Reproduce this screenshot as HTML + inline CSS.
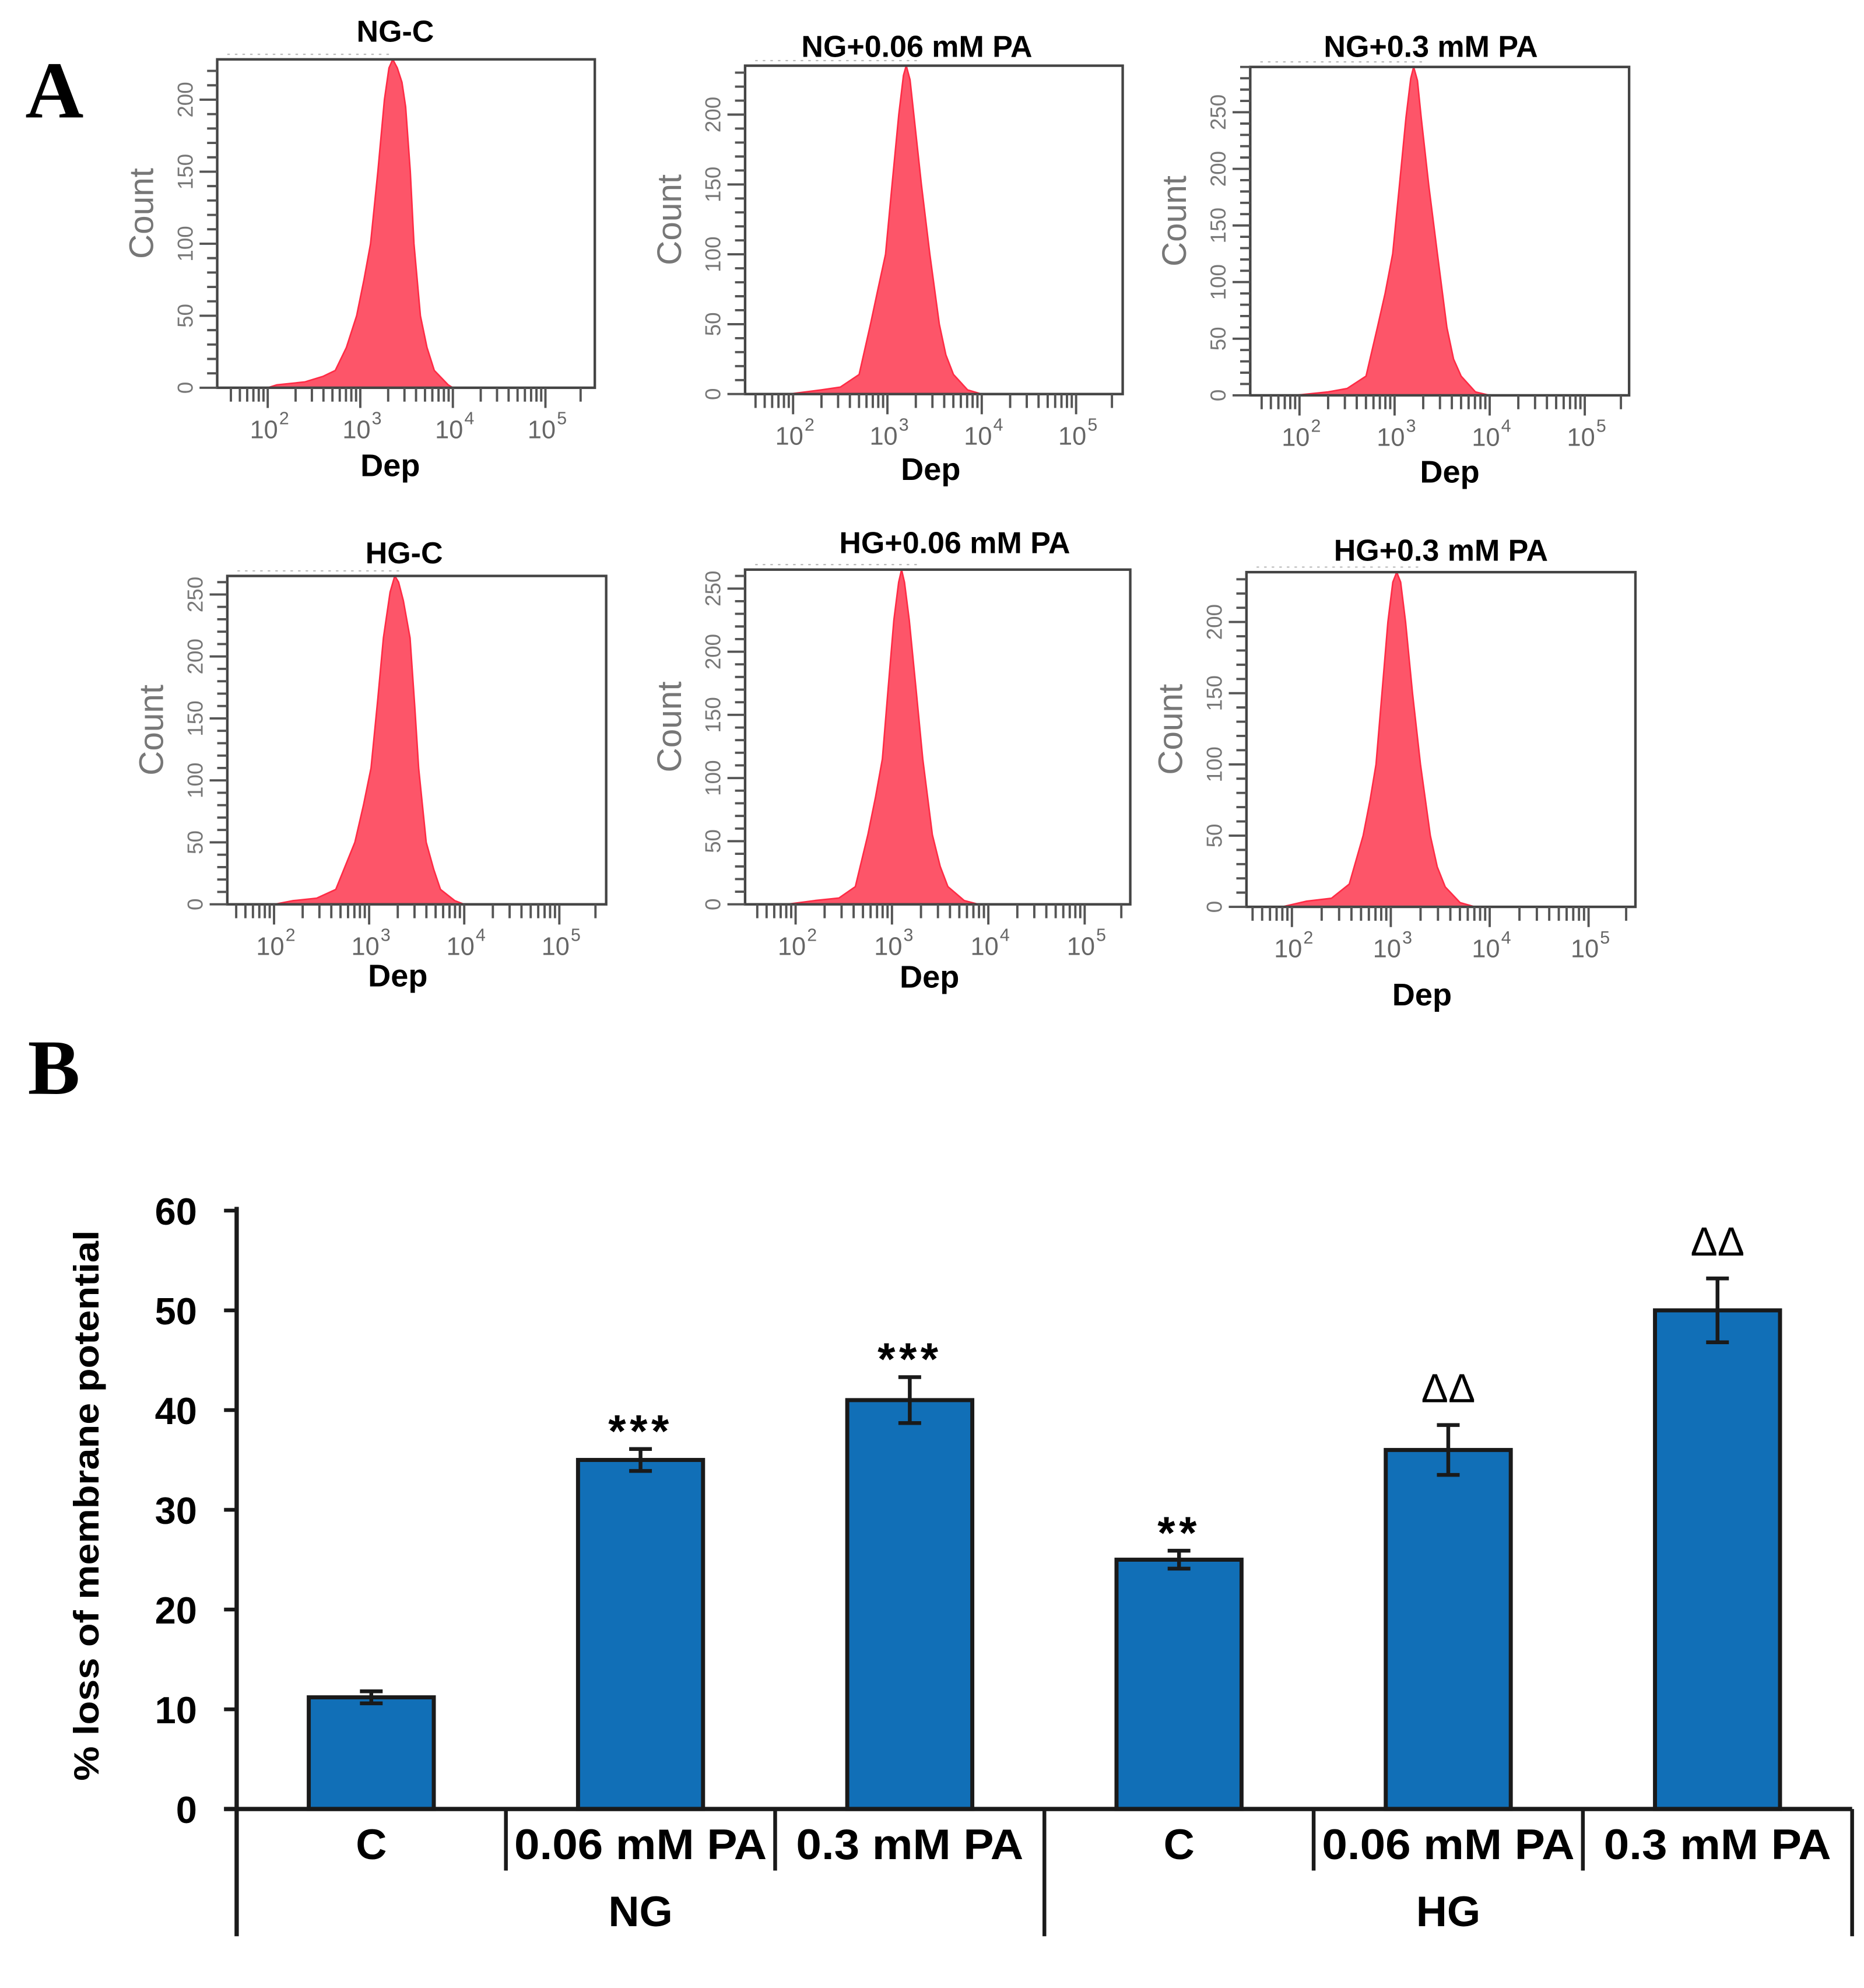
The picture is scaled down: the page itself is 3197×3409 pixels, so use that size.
<!DOCTYPE html>
<html><head><meta charset="utf-8"><title>Membrane potential figure</title>
<style>
html,body{margin:0;padding:0;background:#fff;}
svg{display:block;}
</style></head>
<body>
<svg id="fig" xmlns="http://www.w3.org/2000/svg" width="3197" height="3409" viewBox="0 0 1476 1574" preserveAspectRatio="none" font-family="'Liberation Sans', sans-serif">
  <rect x="0" y="0" width="1476" height="1574" fill="#fff"/>
  <text x="20" y="93" font-family="'Liberation Serif', serif" font-weight="bold" font-size="64">A</text>
  <text x="22" y="866" font-family="'Liberation Serif', serif" font-weight="bold" font-size="62">B</text>
  <g id="hists"></g>
  <g id="bars"></g>
</svg>
<script>
// ---------- Panel A: histogram data ----------
const panelTitles = ["NG-C","NG+0.06 mM PA","NG+0.3 mM PA","HG-C","HG+0.06 mM PA","HG+0.3 mM PA"];
const histLogs1 = [2.0,2.1,2.4,2.6,2.73,2.85,2.96,3.04,3.11,3.19,3.26,3.31,3.35,3.40,3.45,3.49,3.54,3.58,3.65,3.72,3.8,3.95,4.0];
const histCounts1 = [0,2,4,8,12,28,50,75,100,150,200,222,228,222,212,195,150,100,50,28,12,2,0];
const histLogs2 = [1.95,2.3,2.5,2.7,2.82,2.9,2.98,3.05,3.12,3.17,3.2,3.24,3.28,3.36,3.45,3.55,3.62,3.7,3.85,4.0];
const histCounts2 = [0,3,5,14,50,75,100,150,200,228,235,225,200,150,100,50,28,14,3,0];
const histLogs3 = [1.95,2.3,2.5,2.7,2.82,2.9,2.98,3.05,3.12,3.17,3.2,3.24,3.28,3.36,3.45,3.55,3.62,3.7,3.85,4.0];
const histCounts3 = [0,3,6,17,60,90,125,185,245,280,290,278,245,185,125,60,32,17,3,0];
const histLogs4 = [2.0,2.2,2.45,2.65,2.85,2.94,3.02,3.09,3.15,3.22,3.27,3.31,3.36,3.43,3.48,3.52,3.6,3.68,3.75,3.9,4.0];
const histCounts4 = [0,3,5,12,50,80,110,165,215,252,265,260,245,215,160,110,50,28,12,3,0];
const histLogs5 = [1.9,2.2,2.45,2.62,2.75,2.83,2.9,2.96,3.02,3.07,3.1,3.13,3.18,3.25,3.32,3.42,3.5,3.58,3.75,3.9];
const histCounts5 = [0,3,5,14,55,85,115,170,225,255,265,255,225,170,115,55,30,14,3,0];
const histLogs6 = [1.9,2.15,2.4,2.58,2.72,2.79,2.85,2.91,2.97,3.02,3.06,3.1,3.15,3.22,3.3,3.4,3.47,3.55,3.7,3.85];
const histCounts6 = [0,4,6,16,50,75,100,150,200,228,235,228,200,150,100,50,28,14,3,0];
const histYTickMax = [200,200,250,250,250,200];
const histTopCount = [228,235,290,265,265,235];
const decadeLabels = ["2","3","4","5"];

// layout (pixel geometry, not data)
const panelBoxes = [
  {x0:172,x1:471,y0:47,y1:307,d2:212,per:73.3,tx:313,ty:33,dx:309,dy:377},
  {x0:590,x1:889,y0:52,y1:312,d2:628,per:74.7,tx:726,ty:45,dx:737,dy:380},
  {x0:990,x1:1290,y0:53,y1:313,d2:1029,per:75.3,tx:1133,ty:45,dx:1148,dy:382},
  {x0:180,x1:480,y0:456,y1:716,d2:217,per:75.3,tx:320,ty:446,dx:315,dy:781},
  {x0:590,x1:895,y0:451,y1:716,d2:630,per:76.3,tx:756,ty:438,dx:736,dy:782},
  {x0:987,x1:1295,y0:453,y1:718,d2:1023,per:78.3,tx:1141,ty:444,dx:1126,dy:796}
];
const histLogs = [histLogs1,histLogs2,histLogs3,histLogs4,histLogs5,histLogs6];
const histCounts = [histCounts1,histCounts2,histCounts3,histCounts4,histCounts5,histCounts6];

const NS = "http://www.w3.org/2000/svg";
function mk(tag, attrs, parent){
  const e = document.createElementNS(NS, tag);
  for (const k in attrs) e.setAttribute(k, attrs[k]);
  parent.appendChild(e);
  return e;
}
const hg = document.getElementById('hists');
panelBoxes.forEach((b, i) => {
  const g = mk('g', {}, hg);
  
  
  const xs = v => b.d2 + (v - 2) * b.per;
  const ys = c => b.y1 - c * (b.y1 - b.y0) / histTopCount[i];
  let pts = [];
  histLogs[i].forEach((l, j) => pts.push(xs(l).toFixed(1) + ',' + ys(histCounts[i][j]).toFixed(1)));
  const poly = mk('polygon', {points: pts.join(' '), fill: '#fd5569', stroke: '#ff2b45', 'stroke-width': 1.2, 'stroke-linejoin': 'round'}, g);
  
  
  const box = mk('rect', {x: b.x0, y: b.y0, width: b.x1 - b.x0, height: b.y1 - b.y0, fill: 'none', stroke: '#444', 'stroke-width': 2}, g);
  
  
  mk('line', {x1: b.x0 + 8, y1: b.y0 - 4, x2: b.x0 + 140, y2: b.y0 - 4, stroke: '#bbb', 'stroke-width': 1, 'stroke-dasharray': '2 4'}, g);
  for (let c = 0; c <= histTopCount[i]; c += 10) {
    const major = c % 50 === 0;
    mk('line', {x1: b.x0 - (major ? 14 : 8), y1: ys(c), x2: b.x0, y2: ys(c), stroke: '#555', 'stroke-width': 1.8}, g);
  }
  for (let c = 0; c <= histYTickMax[i]; c += 50) {
    const t = mk('text', {x: b.x0 - 24, y: ys(c), 'font-size': 17, fill: '#777', 'text-anchor': 'middle', transform: 'rotate(-90 ' + (b.x0 - 24) + ' ' + ys(c) + ')', 'dominant-baseline': 'middle'}, g);
    t.textContent = String(c);
    
    
  }
  const cy = (b.y0 + b.y1) / 2 - 8;
  const cl = mk('text', {x: b.x0 - 58, y: cy, 'font-size': 27, fill: '#777', 'text-anchor': 'middle', transform: 'rotate(-90 ' + (b.x0 - 58) + ' ' + cy + ')', 'dominant-baseline': 'middle'}, g);
  cl.textContent = 'Count';
  
  
  for (let d = 1; d <= 5; d++) {
    for (let k = 1; k <= 9; k++) {
      const l = d + Math.log10(k);
      const x = xs(l);
      if (x < b.x0 + 2 || x > b.x1 - 6) continue;
      if (l > 5.05) continue;
      const major = k === 1;
      mk('line', {x1: x, y1: b.y1, x2: x, y2: b.y1 + (major ? 16 : 11), stroke: '#555', 'stroke-width': 1.8}, g);
    }
  }
  const endx = xs(5.38);
  if (endx < b.x1 - 2) mk('line', {x1: endx, y1: b.y1, x2: endx, y2: b.y1 + 11, stroke: '#555', 'stroke-width': 1.8}, g);
  decadeLabels.forEach((lab, j) => {
    const x = xs(2 + j);
    const t = mk('text', {x: x - 3, y: b.y1 + 40, 'font-size': 20, fill: '#666', 'text-anchor': 'middle'}, g);
    t.textContent = '10';
    
    
    const s = mk('text', {x: x + 13, y: b.y1 + 29, 'font-size': 14, fill: '#666', 'text-anchor': 'middle'}, g);
    s.textContent = lab;
  });
  const dep = mk('text', {x: b.dx, y: b.dy, 'font-size': 25, 'font-weight': 'bold', 'text-anchor': 'middle'}, g);
  dep.textContent = 'Dep';
  
  
  const ttl = mk('text', {x: b.tx, y: b.ty, 'font-size': 24, 'font-weight': 'bold', 'text-anchor': 'middle'}, g);
  ttl.textContent = panelTitles[i];
  
  
});

// ---------- Panel B: bar chart data ----------
const barCategories = ["C","0.06 mM PA","0.3 mM PA","C","0.06 mM PA","0.3 mM PA"];
const groupLabels = ["NG","HG"];
const barValues = [11.2, 35.0, 41.0, 25.0, 36.0, 50.0];
const barErrors = [0.6, 1.1, 2.3, 0.9, 2.5, 3.2];
const barMarks = ["", "***", "***", "**", "ΔΔ", "ΔΔ"];
const yTicks = [0,10,20,30,40,50,60];

const bg = document.getElementById('bars');
const axX = 187.4, baseY = 1432.3, topY = 958.5, yMax = 60;
const slotW = 213.2, barW = 99;
const ysB = v => baseY - v / yMax * (baseY - topY);
const xsB = i => axX + slotW * (i + 0.5);

barValues.forEach((v, i) => {
  const r = mk('rect', {x: xsB(i) - barW / 2, y: ysB(v), width: barW, height: baseY - ysB(v), fill: '#116fb7', stroke: '#1a1a1a', 'stroke-width': 3.2}, bg);
  
  
  const e = barErrors[i];
  const eg = mk('g', {stroke: '#1a1a1a', 'stroke-width': 3}, bg);
  
  
  mk('line', {x1: xsB(i), y1: ysB(v + e), x2: xsB(i), y2: ysB(v - e)}, eg);
  mk('line', {x1: xsB(i) - 9, y1: ysB(v + e), x2: xsB(i) + 9, y2: ysB(v + e)}, eg);
  mk('line', {x1: xsB(i) - 9, y1: ysB(v - e), x2: xsB(i) + 9, y2: ysB(v - e)}, eg);
  if (barMarks[i]) {
    const isDelta = barMarks[i].indexOf('Δ') >= 0;
    const t = mk('text', {x: xsB(i), y: ysB(v + e) - (isDelta ? 18 : 2), 'font-size': isDelta ? 32 : 36, 'font-weight': isDelta ? 'normal' : 'bold', 'text-anchor': 'middle', 'letter-spacing': isDelta ? 0 : 3}, bg);
    t.textContent = barMarks[i];
    
    
  }
});

const yAxis = mk('line', {x1: axX, y1: topY - 3, x2: axX, y2: 1533, stroke: '#1a1a1a', 'stroke-width': 3.4}, bg);


const xAxis = mk('line', {x1: axX - 10, y1: baseY, x2: axX + slotW * 6, y2: baseY, stroke: '#1a1a1a', 'stroke-width': 3.4}, bg);


yTicks.forEach(v => {
  mk('line', {x1: axX - 10, y1: ysB(v), x2: axX, y2: ysB(v), stroke: '#1a1a1a', 'stroke-width': 3}, bg);
  const t = mk('text', {x: 156, y: ysB(v) + 11, 'font-size': 30, 'font-weight': 'bold', 'text-anchor': 'end'}, bg);
  t.textContent = String(v);
  
  
});
const yt = mk('text', {x: 78, y: 1192, 'font-size': 28, 'font-weight': 'bold', 'text-anchor': 'middle', transform: 'rotate(-90 78 1192)', textLength: 436, lengthAdjust: 'spacingAndGlyphs'}, bg);
yt.textContent = '% loss of membrane potential';



for (let k = 1; k <= 6; k++) {
  const long = (k % 3 === 0);
  mk('line', {x1: axX + slotW * k, y1: baseY, x2: axX + slotW * k, y2: long ? 1533 : 1481, stroke: '#1a1a1a', 'stroke-width': 3}, bg);
}
barCategories.forEach((c, i) => {
  const t = mk('text', {x: xsB(i), y: 1472, 'font-size': 34, 'font-weight': 'bold', 'text-anchor': 'middle'}, bg);
  if (c.length > 2) { t.setAttribute('textLength', c.length > 9 ? 200 : 180); t.setAttribute('lengthAdjust', 'spacingAndGlyphs'); }
  t.textContent = c;
  
  
});
groupLabels.forEach((gname, j) => {
  const t = mk('text', {x: axX + slotW * (1.5 + 3 * j), y: 1525, 'font-size': 34, 'font-weight': 'bold', 'text-anchor': 'middle'}, bg);
  t.textContent = gname;
  
  
});
</script>
</body></html>
